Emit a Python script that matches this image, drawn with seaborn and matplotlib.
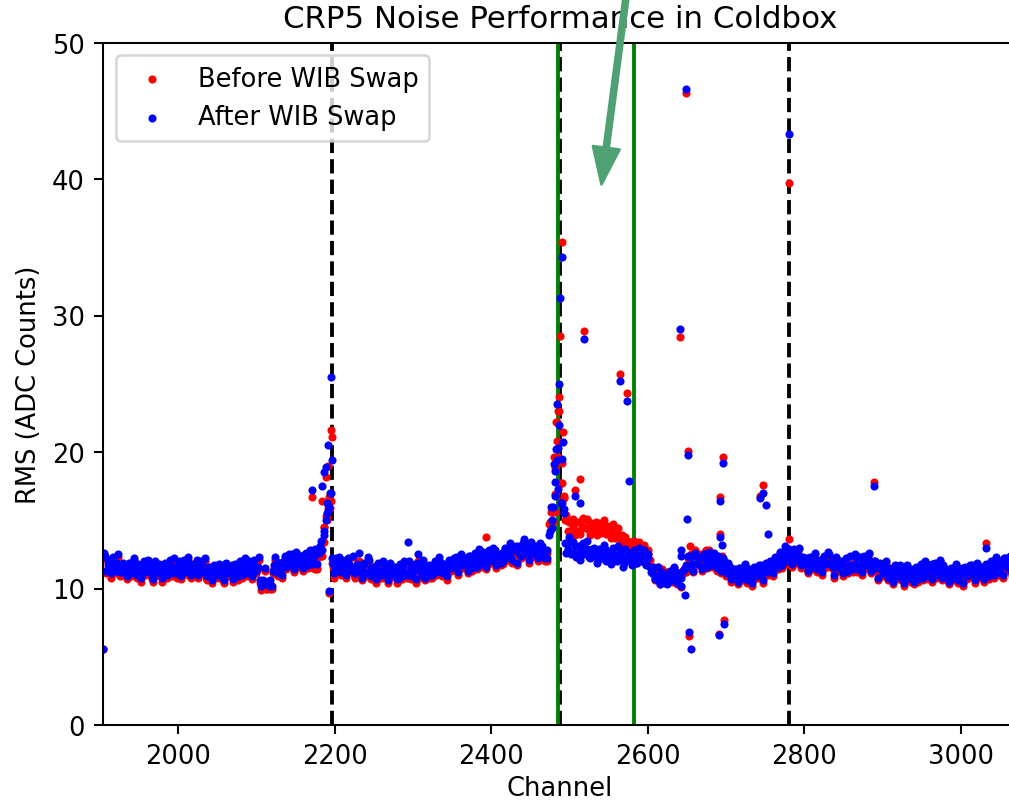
import numpy as np
import pandas as pd
import matplotlib
matplotlib.use("Agg")
import matplotlib.pyplot as plt
import seaborn as sns

# ---------------- data ----------------
# band channels (collection channels 1904..3071, two interleaved samplings)
band_channels = list(range(1904, 3072, 3))
band2_channels = list(range(1905, 3072, 3))

rms_after_band = [
    5.6, 12.4, 11.8, 11.5, 12.1, 11.3, 11.9, 11.6, 11.2, 11.7,   # 1904
    11.4, 11.9, 11.1, 11.6, 11.3, 11.8, 11.0, 11.5, 11.2, 11.7,  # 1934
    11.3, 10.9, 11.6, 11.2, 11.8, 11.4, 11.0, 11.5, 11.9, 11.3,  # 1964
    11.6, 11.1, 11.4, 12.0, 11.3, 11.7, 11.2, 11.8, 11.5, 11.9,  # 1994
    12.1, 11.6, 11.9, 11.3, 11.0, 11.4, 10.9, 11.2, 11.5, 11.0,  # 2024
    11.3, 10.8, 11.1, 11.5, 11.2, 11.7, 11.4, 11.0, 11.6, 11.3,  # 2054
    11.7, 11.4, 12.0, 11.5, 11.8, 11.3, 11.6, 10.6, 10.4, 11.5,  # 2084
    10.3, 10.6, 10.2, 11.7, 11.2, 11.9, 11.5, 12.0, 11.6, 11.9,  # 2114
    12.1, 11.7, 12.2, 11.8, 12.4, 12.0, 12.5, 12.2, 11.9, 12.6,  # 2144
    12.3, 12.7, 12.6, 13.5, 14.2, 15.0, 15.7, 17.0, 11.8, 11.4,  # 2174
    11.9, 11.4, 12.1, 11.6, 11.3, 11.8, 11.5, 11.2, 11.7, 12.6,  # 2204
    11.4, 11.9, 11.2, 12.3, 11.5, 11.1, 11.6, 10.9, 11.3, 11.0,  # 2234
    11.2, 11.6, 10.9, 11.4, 11.1, 11.5, 10.8, 11.3, 11.7, 11.2,  # 2264
    13.4, 11.5, 11.2, 11.8, 12.5, 11.4, 11.0, 11.6, 11.3, 11.7,  # 2294
    11.4, 11.8, 11.2, 11.6, 11.9, 11.5, 11.3, 11.7, 12.0, 11.6,  # 2324
    11.9, 11.5, 12.1, 11.8, 12.2, 11.7, 12.4, 12.0, 11.8, 12.3,  # 2354
    12.5, 12.1, 12.7, 12.2, 12.0, 12.6, 12.3, 12.8, 12.4, 12.1,  # 2384
    12.6, 12.3, 12.9, 12.5, 12.2, 12.8, 13.1, 12.6, 12.4, 13.3,  # 2414
    12.9, 12.6, 13.2, 12.8, 12.5, 13.0, 12.7, 13.1, 12.4, 12.2,  # 2444
    13.9, 16.0, 19.1, 20.2, 17.3, 16.3, 20.7, 13.3, 12.9, 13.4,  # 2474
    12.6, 13.1, 12.4, 12.8, 13.2, 12.5, 12.9, 12.3, 12.7, 13.0,  # 2504
    12.4, 12.8, 12.2, 12.6, 12.9, 12.3, 12.1, 12.7, 12.4, 12.0,  # 2534
    12.5, 12.2, 11.9, 12.4, 12.1, 12.6, 12.3, 11.9, 12.5, 12.2,  # 2564
    12.3, 11.9, 12.2, 11.6, 11.1, 10.8, 11.0, 10.6, 11.2, 10.8,  # 2594
    11.0, 10.7, 11.2, 10.9, 10.6, 11.1, 10.8, 11.3, 9.5, 11.6,   # 2624
    12.3, 11.8, 12.4, 11.9, 12.2, 11.6, 12.5, 12.0, 11.7, 12.3,  # 2654
    12.1, 11.7, 12.4, 11.9, 12.2, 11.5, 11.2, 11.6, 11.0, 11.4,  # 2684
    11.1, 11.5, 10.9, 11.3, 11.0, 11.4, 11.2, 10.8, 11.3, 11.0,  # 2714
    11.4, 11.1, 11.6, 11.3, 12.0, 11.7, 11.5, 12.1, 11.8, 12.3,  # 2744
    12.1, 12.6, 12.9, 12.4, 12.7, 12.3, 12.5, 12.0, 12.3, 11.9,  # 2774
    12.2, 11.8, 12.0, 11.7, 12.1, 11.9, 11.6, 12.0, 11.8, 12.7,  # 2804
    11.9, 11.6, 12.0, 11.7, 11.5, 11.9, 11.6, 11.3, 11.7, 11.5,  # 2834
    11.8, 12.1, 11.6, 12.3, 11.9, 11.7, 12.2, 11.8, 11.5, 12.0,  # 2864
    11.6, 11.9, 11.3, 11.7, 11.2, 11.5, 11.0, 11.3, 10.9, 11.2,  # 2894
    10.8, 11.2, 10.9, 11.3, 10.7, 11.1, 11.4, 10.9, 11.2, 11.5,  # 2924
    11.1, 11.6, 11.3, 11.8, 11.4, 11.0, 11.5, 11.2, 11.7, 11.3,  # 2954
    11.0, 11.4, 11.1, 10.8, 11.3, 11.0, 11.5, 11.2, 10.9, 11.3,  # 2984
    11.1, 11.5, 11.2, 11.6, 11.0, 11.4, 13.0, 11.3, 11.7, 11.2,  # 3014
    11.5, 11.8, 11.4, 11.9, 12.2, 11.7, 12.0, 11.6, 11.9, 11.5,  # 3044
]

rms_before_band = [
    5.6, 12.2, 11.6, 11.2, 11.9, 11.1, 11.7, 11.3, 11.0, 11.5,   # 1904
    11.2, 11.7, 10.9, 11.4, 11.0, 11.6, 10.8, 11.3, 11.0, 11.5,  # 1934
    11.0, 10.7, 11.4, 11.0, 11.6, 11.2, 10.8, 11.3, 11.7, 11.1,  # 1964
    11.3, 10.9, 11.2, 11.8, 11.1, 11.5, 11.0, 11.6, 11.3, 11.7,  # 1994
    11.9, 11.4, 11.7, 11.1, 10.8, 11.2, 10.6, 11.0, 11.3, 10.8,  # 2024
    11.0, 10.6, 10.9, 11.3, 11.0, 11.5, 11.2, 10.8, 11.4, 11.1,  # 2054
    11.5, 11.2, 11.8, 11.3, 11.6, 11.1, 11.4, 10.4, 10.1, 11.3,  # 2084
    10.0, 10.3, 10.0, 11.5, 11.0, 11.7, 11.3, 11.8, 11.4, 11.7,  # 2114
    11.9, 11.5, 12.0, 11.6, 12.2, 11.8, 12.3, 12.0, 11.6, 12.4,  # 2144
    11.5, 11.4, 12.3, 13.2, 14.5, 15.3, 15.9, 16.4, 11.6, 11.2,  # 2174
    11.7, 11.2, 11.9, 11.4, 11.1, 11.6, 11.3, 11.0, 11.5, 12.0,  # 2204
    11.2, 11.7, 11.0, 12.1, 11.3, 10.9, 11.4, 10.7, 11.1, 10.8,  # 2234
    11.0, 11.4, 10.7, 11.2, 10.9, 11.3, 10.6, 11.1, 11.5, 11.0,  # 2264
    11.8, 11.3, 11.0, 11.6, 12.0, 11.2, 10.8, 11.4, 11.1, 11.5,  # 2294
    11.2, 11.6, 11.0, 11.4, 11.7, 11.3, 11.1, 11.5, 11.8, 11.4,  # 2324
    11.7, 11.3, 11.9, 11.6, 12.0, 11.5, 12.2, 11.8, 11.6, 12.1,  # 2354
    12.3, 11.9, 12.5, 13.8, 11.8, 12.4, 12.1, 12.6, 12.2, 11.9,  # 2384
    12.4, 12.1, 12.7, 12.3, 12.0, 12.6, 12.9, 12.4, 12.2, 13.1,  # 2414
    12.7, 12.4, 13.0, 12.6, 12.3, 12.8, 12.5, 12.9, 12.2, 12.0,  # 2444
    14.7, 15.6, 19.6, 22.2, 23.0, 17.7, 21.5, 15.0, 14.2, 13.8,  # 2474
    14.6, 13.9, 14.2, 14.9, 14.4, 14.5, 15.1, 14.3, 14.8, 14.6,  # 2504
    14.9, 14.4, 14.7, 14.2, 14.6, 14.1, 13.9, 14.3, 13.7, 14.0,  # 2534
    13.6, 13.9, 13.3, 13.5, 13.0, 13.4, 12.8, 13.1, 12.7, 12.9,  # 2564
    12.6, 12.8, 12.5, 12.1, 11.4, 11.2, 11.3, 10.8, 11.4, 11.0,  # 2594
    11.2, 10.9, 11.3, 11.1, 10.8, 11.0, 10.9, 11.2, 11.2, 11.4,  # 2624
    13.1, 11.8, 12.6, 11.9, 12.3, 11.7, 12.5, 12.8, 11.6, 12.2,  # 2654
    11.9, 11.5, 12.2, 11.7, 12.0, 11.3, 11.0, 11.4, 10.8, 11.2,  # 2684
    10.9, 11.3, 10.7, 11.1, 10.8, 11.2, 11.0, 10.6, 11.1, 10.8,  # 2714
    11.2, 10.9, 11.4, 11.1, 11.8, 11.5, 11.3, 11.9, 11.6, 12.1,  # 2744
    11.9, 12.4, 13.6, 12.2, 12.5, 12.1, 12.3, 11.8, 12.1, 11.7,  # 2774
    12.0, 11.6, 11.8, 11.5, 11.9, 11.7, 11.4, 11.8, 11.6, 12.2,  # 2804
    11.7, 11.4, 11.8, 11.5, 11.3, 11.7, 11.4, 11.1, 11.5, 11.3,  # 2834
    11.6, 12.4, 11.4, 12.1, 11.7, 11.5, 12.0, 11.6, 11.3, 11.8,  # 2864
    11.4, 11.7, 11.1, 11.5, 11.0, 11.3, 10.8, 11.1, 10.7, 11.0,  # 2894
    10.6, 11.0, 10.7, 11.1, 10.5, 10.9, 11.2, 10.7, 11.0, 11.3,  # 2924
    10.9, 11.4, 11.1, 11.6, 11.2, 10.8, 11.3, 11.0, 11.5, 11.1,  # 2954
    10.8, 11.2, 10.9, 10.6, 11.1, 10.8, 11.3, 11.0, 10.7, 11.1,  # 2984
    10.9, 11.3, 11.0, 11.4, 10.8, 11.2, 13.3, 11.1, 11.5, 11.0,  # 3014
    11.3, 11.6, 11.2, 11.7, 12.0, 11.5, 11.8, 11.4, 11.7, 11.3,  # 3044
]

rms_after_band2 = [
    12.4, 11.3, 12.1, 11.1, 12.3, 11.6, 12.5, 11.2, 11.9, 11.4,  # 1905
    10.9, 11.9, 11.2, 12.2, 11.0, 11.7, 10.8, 12.0, 11.4, 12.1,  # 1935
    11.8, 10.7, 12.0, 11.2, 11.7, 10.8, 11.9, 11.0, 12.1, 11.1,  # 1965
    12.2, 11.1, 11.9, 10.9, 12.1, 11.4, 12.3, 11.0, 11.7, 11.2,  # 1995
    11.0, 12.0, 11.3, 12.2, 10.9, 11.6, 10.6, 11.7, 11.1, 11.8,  # 2025
    11.7, 10.6, 11.9, 11.1, 11.6, 10.7, 11.8, 10.9, 12.0, 11.0,  # 2055
    12.2, 11.1, 11.9, 10.9, 12.1, 11.4, 12.3, 10.2, 10.6, 10.3,  # 2085
    10.5, 10.2, 11.3, 12.3, 11.1, 11.9, 11.0, 12.4, 11.7, 12.5,  # 2115
    12.5, 11.4, 12.7, 11.9, 12.4, 11.5, 12.6, 11.7, 12.8, 11.8,  # 2145
    12.9, 11.8, 13.1, 12.8, 13.9, 15.5, 16.0, 12.2, 11.1, 12.2,  # 2175
    12.3, 11.2, 12.0, 11.0, 12.2, 11.5, 12.4, 11.1, 11.8, 11.3,  # 2205
    10.8, 11.8, 11.1, 12.1, 10.9, 11.6, 10.7, 11.9, 11.3, 12.0,  # 2235
    11.7, 10.6, 11.9, 11.1, 11.6, 10.7, 11.8, 10.9, 12.0, 11.0,  # 2265
    12.0, 10.9, 11.7, 10.7, 11.9, 11.2, 12.1, 10.8, 11.5, 11.0,  # 2295
    11.0, 12.0, 11.3, 12.3, 11.1, 11.8, 10.9, 12.1, 11.5, 12.2,  # 2325
    12.3, 11.2, 12.5, 11.7, 12.2, 11.3, 12.4, 11.5, 12.6, 11.6,  # 2355
    12.9, 11.8, 12.6, 11.6, 12.8, 12.1, 13.0, 11.7, 12.4, 11.9,  # 2385
    12.0, 13.0, 12.3, 13.3, 12.1, 12.8, 11.9, 13.1, 12.5, 13.6,  # 2415
    13.2, 12.1, 13.4, 12.6, 13.1, 12.2, 13.3, 12.4, 12.2, 12.8,  # 2445
    14.2, 15.0, 17.8, 19.4, 22.0, 19.5, 15.8, 12.6, 13.8, 12.5,  # 2475
    13.4, 12.3, 13.1, 12.1, 13.3, 12.6, 13.5, 12.2, 12.9, 12.4,  # 2505
    11.9, 12.9, 12.2, 13.2, 12.0, 12.7, 11.8, 13.0, 12.4, 13.1,  # 2535
    12.7, 11.6, 12.9, 12.1, 12.6, 11.7, 12.8, 11.9, 13.0, 12.0,  # 2565
    12.8, 11.7, 12.5, 11.2, 11.6, 10.7, 11.6, 10.3, 11.0, 10.5,  # 2595
    10.3, 11.3, 10.6, 11.6, 10.4, 11.1, 10.2, 11.4, 11.7, 12.4,  # 2625
    12.4, 11.3, 12.6, 11.8, 12.3, 11.4, 12.5, 11.6, 12.7, 11.7,  # 2655
    12.6, 11.5, 12.3, 11.3, 12.0, 11.1, 11.9, 10.7, 11.4, 10.9,  # 2685
    10.5, 11.5, 10.8, 11.8, 10.6, 11.3, 10.4, 11.6, 11.0, 11.7,  # 2715
    11.7, 10.6, 11.9, 11.2, 11.9, 11.1, 12.3, 11.6, 12.7, 11.7,  # 2745
    13.1, 12.0, 12.8, 11.8, 12.9, 12.1, 13.0, 11.7, 12.2, 11.7,  # 2775
    11.3, 12.3, 11.6, 12.6, 11.4, 12.1, 11.2, 12.4, 11.8, 12.5,  # 2805
    12.1, 11.0, 12.3, 11.5, 12.0, 11.1, 12.2, 11.3, 12.4, 11.4,  # 2835
    12.5, 11.4, 12.2, 11.2, 12.4, 11.7, 12.6, 11.3, 12.0, 11.5,  # 2865
    10.8, 11.8, 11.1, 12.0, 10.8, 11.4, 10.5, 11.7, 11.0, 11.7,  # 2895
    11.5, 10.4, 11.7, 10.9, 11.4, 10.5, 11.6, 10.7, 11.8, 10.8,  # 2925
    12.0, 10.9, 11.7, 10.7, 11.9, 11.2, 12.1, 10.8, 11.5, 11.0,  # 2955
    10.5, 11.5, 10.8, 11.8, 10.6, 11.3, 10.4, 11.6, 11.0, 11.7,  # 2985
    11.7, 10.6, 11.9, 11.1, 11.6, 10.7, 11.8, 10.9, 12.0, 11.0,  # 3015
    12.3, 11.2, 12.0, 11.0, 12.2, 11.5, 12.4, 11.1, 11.8,        # 3045
]

rms_before_band2 = [
    12.2, 11.1, 12.0, 10.8, 12.2, 11.4, 12.3, 10.9, 11.8, 11.2,  # 1905
    10.7, 11.8, 11.0, 12.1, 10.8, 11.5, 10.5, 11.9, 11.2, 11.9,  # 1935
    11.6, 10.5, 11.9, 11.0, 11.5, 10.5, 11.8, 10.8, 11.9, 10.9,  # 1965
    12.1, 10.8, 11.7, 10.7, 12.0, 11.2, 12.1, 10.8, 11.6, 10.9,  # 1995
    10.8, 11.9, 11.1, 12.0, 10.6, 11.5, 10.4, 11.5, 10.9, 11.7,  # 2025
    11.5, 10.4, 11.8, 10.9, 11.4, 10.5, 11.7, 10.6, 11.8, 10.8,  # 2055
    12.0, 10.9, 11.8, 10.7, 11.9, 11.2, 12.1, 9.9, 10.4, 10.0,   # 2085
    10.2, 10.0, 11.1, 12.1, 10.9, 11.8, 10.8, 12.2, 11.5, 12.3,  # 2115
    12.3, 11.2, 12.6, 11.6, 12.3, 11.3, 12.4, 11.5, 12.6, 11.5,  # 2145
    11.4, 11.5, 12.8, 12.4, 13.4, 15.0, 16.7, 11.9, 10.8, 11.9,  # 2175
    12.1, 11.0, 11.9, 10.8, 12.0, 11.3, 12.3, 10.8, 11.6, 11.1,  # 2205
    10.6, 11.7, 10.9, 11.9, 10.7, 11.4, 10.4, 11.8, 11.1, 11.8,  # 2235
    11.5, 10.4, 11.8, 10.9, 11.4, 10.4, 11.6, 10.7, 11.9, 10.8,  # 2265
    11.8, 10.7, 11.6, 10.4, 11.7, 11.0, 11.9, 10.6, 11.4, 10.8,  # 2295
    10.8, 11.9, 11.1, 12.1, 10.9, 11.7, 10.6, 11.9, 11.3, 12.0,  # 2325
    12.1, 11.0, 12.4, 11.5, 12.0, 11.1, 12.3, 11.3, 12.4, 11.4,  # 2355
    12.7, 11.6, 12.5, 11.4, 12.6, 11.9, 12.8, 11.5, 12.3, 11.7,  # 2385
    11.8, 12.9, 12.1, 13.1, 11.9, 12.7, 11.7, 13.0, 12.3, 13.4,  # 2415
    13.0, 11.9, 13.3, 12.4, 12.9, 12.0, 13.2, 12.2, 12.0, 12.6,  # 2445
    14.9, 15.9, 18.8, 20.8, 24.0, 19.2, 16.8, 15.4, 14.9, 14.0,  # 2475
    15.1, 14.2, 14.9, 14.0, 15.2, 14.4, 15.0, 13.9, 14.7, 14.3,  # 2505
    13.9, 14.8, 14.1, 15.0, 14.0, 14.6, 13.7, 14.7, 14.2, 14.4,  # 2535
    13.6, 12.9, 13.8, 13.1, 13.4, 12.7, 13.5, 12.8, 13.4, 12.7,  # 2565
    13.2, 12.3, 12.8, 11.5, 11.6, 10.6, 11.6, 10.3, 11.1, 10.4,  # 2595
    10.4, 11.2, 10.5, 11.5, 10.3, 11.0, 10.1, 11.3, 11.2, 12.2,  # 2625
    12.5, 11.2, 12.8, 11.7, 12.5, 11.3, 12.7, 11.5, 12.8, 11.6,  # 2655
    12.4, 11.3, 12.2, 11.1, 11.9, 10.9, 11.8, 10.5, 11.3, 10.7,  # 2685
    10.3, 11.4, 10.6, 11.7, 10.4, 11.2, 10.2, 11.5, 10.8, 11.6,  # 2715
    11.5, 10.4, 11.8, 11.0, 11.8, 10.9, 12.2, 11.4, 12.6, 11.5,  # 2745
    12.9, 11.8, 12.7, 11.6, 12.8, 11.9, 12.9, 11.5, 12.1, 11.5,  # 2775
    11.1, 12.2, 11.4, 12.5, 11.2, 12.0, 11.0, 12.3, 11.6, 12.4,  # 2805
    12.0, 10.8, 12.2, 11.3, 11.9, 10.9, 12.1, 11.1, 12.3, 11.2,  # 2835
    12.4, 11.2, 12.1, 11.0, 12.3, 11.5, 12.5, 11.1, 11.9, 11.3,  # 2865
    10.6, 11.7, 10.9, 11.9, 10.6, 11.3, 10.3, 11.6, 10.8, 11.6,  # 2895
    11.4, 10.2, 11.6, 10.7, 11.3, 10.3, 11.5, 10.5, 11.7, 10.6,  # 2925
    11.9, 10.7, 11.6, 10.5, 11.8, 11.0, 12.0, 10.6, 11.4, 10.8,  # 2955
    10.3, 11.4, 10.6, 11.7, 10.4, 11.2, 10.2, 11.5, 10.8, 11.6,  # 2985
    11.6, 10.4, 11.8, 10.9, 11.5, 10.5, 11.7, 10.7, 11.9, 10.8,  # 3015
    12.2, 11.0, 11.9, 10.8, 12.1, 11.3, 12.3, 10.9, 11.7,        # 3045
]

# individual noisy / outlier channels
spike_channels = [1905, 2171, 2184, 2187, 2189, 2190, 2191, 2193, 2194, 2195,
                  2196, 2478, 2479, 2481, 2482, 2484, 2485, 2487, 2488, 2490,
                  2491, 2493, 2507, 2514, 2519, 2565, 2574, 2576, 2641, 2642,
                  2643, 2649, 2650, 2652, 2653, 2655, 2691, 2692, 2693, 2695,
                  2696, 2697, 2744, 2747, 2751, 2754, 2781, 2889]
spike_before = [12.3, 16.7, 16.4, 14.5, 18.2, 15.3, 19.0, 9.7, 15.9, 21.6,
                21.1, 15.6, 14.9, 15.6, 16.9, 22.2, 19.6, 23.0, 28.5, 35.4,
                17.7, 16.6, 17.2, 18.0, 28.9, 25.7, 24.3, 13.2, 28.4, 11.0,
                11.2, 46.3, 11.6, 20.1, 6.5, 11.9, 6.7, 14.0, 16.7, 12.4,
                19.6, 7.7, 16.8, 17.6, 11.4, 11.8, 39.7, 17.8]
spike_after = [12.6, 17.2, 17.5, 18.5, 18.9, 16.3, 20.5, 9.8, 17.0, 25.5,
               19.4, 14.4, 16.0, 16.8, 18.6, 23.5, 20.3, 25.0, 31.3, 16.3,
               34.3, 15.5, 16.8, 16.3, 28.3, 25.2, 23.7, 17.9, 29.0, 12.8,
               12.4, 46.6, 15.1, 19.8, 6.8, 5.6, 6.6, 13.8, 16.4, 13.2,
               19.2, 7.4, 16.6, 17.0, 16.1, 14.0, 43.3, 17.5]

series_labels = ["Before WIB Swap", "After WIB Swap"]
series_colors = ["red", "blue"]
boundary_channels = [2196, 2488, 2780]
highlight_channels = [2486, 2583]
x_ticks = [2000, 2200, 2400, 2600, 2800, 3000]
y_ticks = [0, 10, 20, 30, 40, 50]

# ---------------- figure ----------------
DPI = 185
fig = plt.figure(figsize=(1009 / DPI, 803 / DPI), dpi=DPI)
ax = fig.add_axes([103 / 1009, 77 / 803, 914 / 1009, 682.5 / 803])

for c in boundary_channels:
    ax.axvline(c, color="k", ls="--", lw=1.5, zorder=1)
for c in highlight_channels:
    ax.axvline(c, color="green", ls="-", lw=1.5, zorder=1)

all_channels = band_channels + band2_channels + spike_channels
df_before = pd.DataFrame({"Channel": all_channels,
                          "RMS": rms_before_band + rms_before_band2 + spike_before})
df_after = pd.DataFrame({"Channel": all_channels,
                         "RMS": rms_after_band + rms_after_band2 + spike_after})

for df, lab, col in zip([df_before, df_after], series_labels, series_colors):
    sns.scatterplot(data=df, x="Channel", y="RMS", color=col, s=10,
                    linewidth=0, marker="o", label=lab, ax=ax, zorder=2)

ax.set_xlim(1904, 3072)
ax.set_ylim(0, 50)
ax.set_xticks(x_ticks)
ax.set_yticks(y_ticks)
ax.set_xlabel("Channel", labelpad=2.5)
ax.set_ylabel("RMS (ADC Counts)")
ax.set_title("CRP5 Noise Performance in Coldbox")
ax.legend(loc="upper left")

ax.annotate("", xy=(2541, 39.6), xytext=(2578.5, 56.0),
            xycoords="data", textcoords="data", annotation_clip=False,
            arrowprops=dict(facecolor="#4fa072", edgecolor="#4fa072",
                            width=1.95, headwidth=10.5, headlength=14.4,
                            shrink=0.0), zorder=6)

fig.savefig("out.png", dpi=DPI)
